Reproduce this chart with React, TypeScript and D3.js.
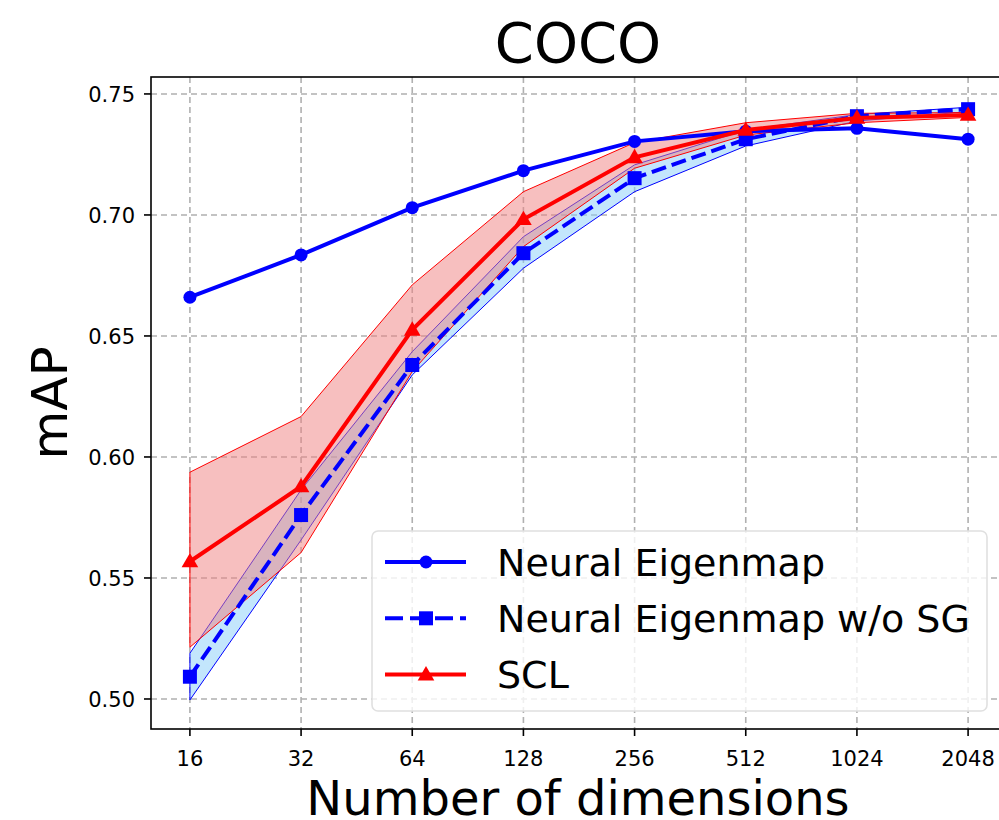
import React from 'react';
import * as d3 from 'd3';

const dims = ['16', '32', '64', '128', '256', '512', '1024', '2048'];
const neMean = [0.666, 0.6835, 0.703, 0.7183, 0.7304, 0.7346, 0.7358, 0.7313];
const nosgMean = [0.5092, 0.576, 0.638, 0.6842, 0.7152, 0.7313, 0.7408, 0.7437];
const nosgLow = [0.4996, 0.5657, 0.6339, 0.678, 0.7096, 0.7285, 0.7388, 0.7427];
const nosgHigh = [0.5189, 0.5864, 0.6435, 0.691, 0.7207, 0.7351, 0.7415, 0.7445];
const sclMean = [0.5568, 0.5878, 0.6525, 0.6982, 0.7238, 0.7351, 0.7401, 0.7413];
const sclLow = [0.5214, 0.5605, 0.6353, 0.6869, 0.7193, 0.733, 0.7381, 0.7403];
const sclHigh = [0.5937, 0.6167, 0.6711, 0.7096, 0.7299, 0.7381, 0.742, 0.7423];
const yTicks = [0.5, 0.55, 0.6, 0.65, 0.7, 0.75];

const W = 999;
const H = 820;
const left = 151;
const top = 77;
const bottom = 729;
const right = 1007;

export default function App() {
  const x = d3.scaleLinear().domain([-0.35, dims.length - 1 + 0.35]).range([left, right]);
  const y = d3.scaleLinear().domain([0.4876, 0.757]).range([bottom, top]);
  const idx = dims.map((_, i) => i);

  const line = (vals: number[]) =>
    d3.line<number>().x((i) => x(i)).y((i) => y(vals[i]))(idx) || '';
  const band = (lo: number[], hi: number[]) =>
    d3.area<number>().x((i) => x(i)).y0((i) => y(lo[i])).y1((i) => y(hi[i]))(idx) || '';

  const font = 'DejaVu Sans, sans-serif';
  const tri = d3.symbol(d3.symbolTriangle, 120)() || '';

  const circle = (cx: number, cy: number, k: string) => (
    <circle key={k} cx={cx} cy={cy} r={6.5} fill="#0000ff" />
  );
  const square = (cx: number, cy: number, k: string) => (
    <rect key={k} x={cx - 7} y={cy - 7} width={14} height={14} fill="#0000ff" />
  );
  const triangle = (cx: number, cy: number, k: string) => (
    <path key={k} d={tri} transform={`translate(${cx},${cy + 1})`} fill="#ff0000" />
  );

  const legendItems = [
    { label: 'Neural Eigenmap', color: '#0000ff', dash: undefined, marker: circle },
    { label: 'Neural Eigenmap w/o SG', color: '#0000ff', dash: '18,7', marker: square },
    { label: 'SCL', color: '#ff0000', dash: undefined, marker: triangle },
  ];

  return (
    <svg width={W} height={H} style={{ position: 'absolute', left: 0, top: 0, background: '#fff' }}>
      <defs>
        <clipPath id="plot">
          <rect x={left} y={top} width={right - left} height={bottom - top} />
        </clipPath>
      </defs>
      {/* grid */}
      <g stroke="#b0b0b0" strokeWidth={1.6} strokeDasharray="6,4">
        {yTicks.map((t) => (
          <line key={t} x1={left} x2={right} y1={y(t)} y2={y(t)} />
        ))}
        {idx.map((i) => (
          <line key={i} x1={x(i)} x2={x(i)} y1={top} y2={bottom} />
        ))}
      </g>
      <g clipPath="url(#plot)">
        <path d={band(nosgLow, nosgHigh)} fill="lightskyblue" fillOpacity={0.5} stroke="#0000ff" strokeWidth={1} />
        <path d={band(sclLow, sclHigh)} fill="lightcoral" fillOpacity={0.5} stroke="#ff0000" strokeWidth={1} />
        <path d={line(neMean)} fill="none" stroke="#0000ff" strokeWidth={4} />
        {idx.map((i) => circle(x(i), y(neMean[i]), 'c' + i))}
        <path d={line(nosgMean)} fill="none" stroke="#0000ff" strokeWidth={4} strokeDasharray="15,6" />
        {idx.map((i) => square(x(i), y(nosgMean[i]), 's' + i))}
        <path d={line(sclMean)} fill="none" stroke="#ff0000" strokeWidth={4} />
        {idx.map((i) => triangle(x(i), y(sclMean[i]), 't' + i))}
      </g>
      {/* spines */}
      <rect x={left} y={top} width={right - left} height={bottom - top} fill="none" stroke="#000" strokeWidth={1.6} />
      {/* y ticks */}
      {yTicks.map((t) => (
        <g key={t}>
          <line x1={left - 7} x2={left} y1={y(t)} y2={y(t)} stroke="#000" strokeWidth={1.6} />
          <text x={left - 16} y={y(t)} dy="0.36em" textAnchor="end" fontFamily={font} fontSize={21}>
            {t.toFixed(2)}
          </text>
        </g>
      ))}
      {/* x ticks */}
      {idx.map((i) => (
        <g key={i}>
          <line x1={x(i)} x2={x(i)} y1={bottom} y2={bottom + 7} stroke="#000" strokeWidth={1.6} />
          <text x={x(i)} y={bottom + 37} textAnchor="middle" fontFamily={font} fontSize={21}>
            {dims[i]}
          </text>
        </g>
      ))}
      <text x={578} y={62} textAnchor="middle" fontFamily={font} fontSize={56}>COCO</text>
      <text x={578} y={815} textAnchor="middle" fontFamily={font} fontSize={48}>Number of dimensions</text>
      <text transform={`translate(67,${(top + bottom) / 2}) rotate(-90)`} textAnchor="middle" fontFamily={font} fontSize={50}>mAP</text>
      {/* legend */}
      <rect x={372} y={531} width={615} height={180} rx={6} fill="#fff" fillOpacity={0.8} stroke="#e0e0e0" strokeWidth={1.6} />
      {legendItems.map((it, k) => {
        const ly = 562 + k * 56.3;
        return (
          <g key={it.label}>
            <line x1={385} x2={466} y1={ly} y2={ly} stroke={it.color} strokeWidth={4} strokeDasharray={it.dash} />
            {it.marker(426, ly, 'l' + k)}
            <text x={497} y={ly} dy="0.36em" fontFamily={font} fontSize={38}>{it.label}</text>
          </g>
        );
      })}
    </svg>
  );
}
